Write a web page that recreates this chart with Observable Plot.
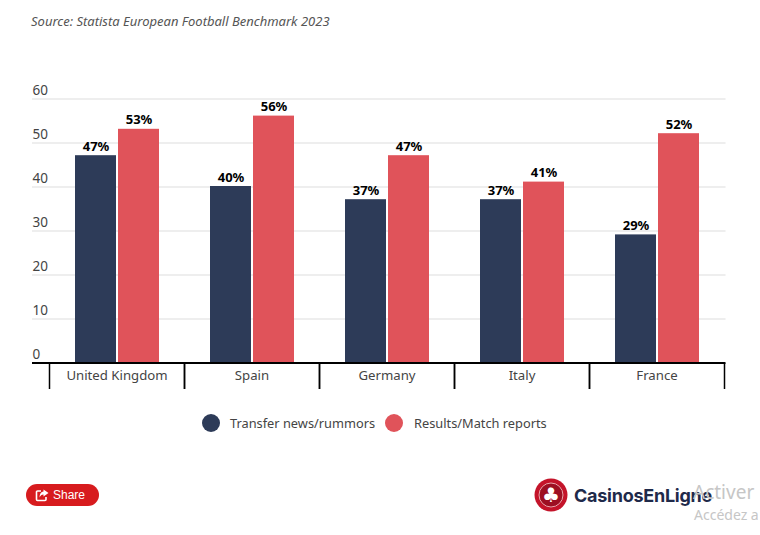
<!DOCTYPE html>
<html><head><meta charset="utf-8">
<script src="https://cdn.jsdelivr.net/npm/d3@7"></script>
<script src="https://cdn.jsdelivr.net/npm/@observablehq/plot@0.6"></script>
<style>
html,body{margin:0;padding:0;background:#fff;overflow:hidden}
#page{position:relative;width:760px;height:535px;overflow:hidden;font-family:"Noto Sans",sans-serif}
#source{height:60px;box-sizing:border-box;padding:13px 0 0 31px;font-style:italic;font-size:13px;color:#555;line-height:17px}
#chart svg{display:block}
.abs{position:absolute;white-space:nowrap}
.swatch{position:absolute;width:18px;height:18px;border-radius:50%;top:414px}
.leg{position:absolute;top:414px;font-size:12.8px;line-height:18px;color:#444;white-space:nowrap}
#share{left:26px;top:484px;width:73px;height:22px;border-radius:11px;background:#d71b1e;color:#fff;font:12px/22px "Liberation Sans",sans-serif}
#share svg{position:absolute;left:9px;top:5px}
#share span{position:absolute;left:27px;top:0}
#brand{left:574px;top:483px;font:700 18px/26px Inter,sans-serif;color:#1f2a4a;letter-spacing:-.25px}
#chip{left:534px;top:478px}
.wm{color:#c6c6c6}
</style></head><body>
<div id="page">
<div id="source">Source: Statista European Football Benchmark 2023</div>
<div id="chart"></div>
<div id="legend"></div>
<div id="share" class="abs"><svg width="14" height="13" viewBox="0 0 14 13"><path d="M6 2H2.5A1 1 0 0 0 1.5 3v7.5a1 1 0 0 0 1 1h7.500a1 1 0 0 0 1-1V8" fill="none" stroke="#fff" stroke-width="1.600"/><path d="M8.500 0.500L13.500 4 8.500 7.500V5.500C6.500 5.500 5.500 6.500 4.500 8.500 4.500 5 6 2.800 8.500 2.500Z" fill="#fff"/></svg><span>Share</span></div>
<svg id="chip" class="abs" width="34" height="34" viewBox="0 0 34 34"><circle cx="17" cy="17" r="16.500" fill="#c4142a"/><circle cx="17" cy="17" r="12" fill="#9d0f22" stroke="#e9a4ab" stroke-width="1"/><text x="17" y="24" text-anchor="middle" font-size="20" fill="#fff" font-family="DejaVu Sans">♣</text></svg>
<div id="brand" class="abs">CasinosEnLigne</div>
<div class="abs wm" style="left:693px;top:480px;font-size:19px;line-height:24px">Activer</div>
<div class="abs wm" style="left:694px;top:506px;font-size:14px;line-height:18px">Accédez a</div>
</div>
<script>
const countries = ["United Kingdom","Spain","Germany","Italy","France"];
const series = ["Transfer news/rummors","Results/Match reports"];
const transferValues = [47,40,37,37,29];
const resultsValues = [53,56,47,41,52];
const yTicks = [0,10,20,30,40,50,60];
const colors = ["#2d3b58","#e0535a"];
const rows = countries.flatMap((c,i)=>[
  {country:c,series:series[0],value:transferValues[i]},
  {country:c,series:series[1],value:resultsValues[i]}
]);
const textColor = "#444";
const chart = Plot.plot({
  width:760,height:340,
  marginTop:39,marginBottom:37,marginLeft:49,marginRight:35.5,
  style:{fontFamily:'"Noto Sans",sans-serif',background:"transparent",overflow:"visible"},
  fx:{domain:countries,padding:0,label:null,axis:null},
  x:{domain:series,paddingInner:0.05,paddingOuter:0.59,axis:null,label:null},
  y:{domain:[0,60],label:null,axis:null},
  color:{domain:series,range:colors},
  marks:[
    Plot.ruleY(yTicks.slice(1),{stroke:"#eeeeee",strokeWidth:2,dy:-0.5,insetLeft:-17,insetRight:-1.5}),
    Plot.axisY(yTicks,{anchor:"left",tickSize:0,tickPadding:0,textAnchor:"start",dx:-17,dy:-9,fontSize:13.5,fill:textColor,label:null}),
    Plot.barY(rows,{fx:"country",x:"series",y:"value",fill:"series",insetTop:-1}),
    Plot.text(rows,{fx:"country",x:"series",y:"value",text:d=>d.value+"%",dy:-10,fontSize:13,fontWeight:700,fill:"#000"}),
    Plot.axisFx({anchor:"bottom",tickSize:0,tickPadding:7,fontSize:13.2,fill:textColor,label:null}),
    Plot.axisFx({anchor:"bottom",tickSize:26,dx:-67.5,tickFormat:()=>"",stroke:"#000",strokeWidth:1.5,label:null}),
    Plot.axisFx(countries.slice(-1),{anchor:"bottom",tickSize:26,dx:67.5,tickFormat:()=>"",stroke:"#000",strokeWidth:1.5,label:null}),
    Plot.ruleY([0],{stroke:"#000",strokeWidth:2,dy:-0.5,insetLeft:-17,insetRight:-1.5})
  ]
});
document.getElementById("chart").append(chart);
const legend = document.getElementById("legend");
const swatchX = [202,385], textX = [230,414];
series.forEach((s,i)=>{
  const d=document.createElement("div");d.className="swatch";d.style.left=swatchX[i]+"px";d.style.background=colors[i];legend.append(d);
  const t=document.createElement("div");t.className="leg";t.style.left=textX[i]+"px";t.textContent=s;legend.append(t);
});
</script>
</body></html>
